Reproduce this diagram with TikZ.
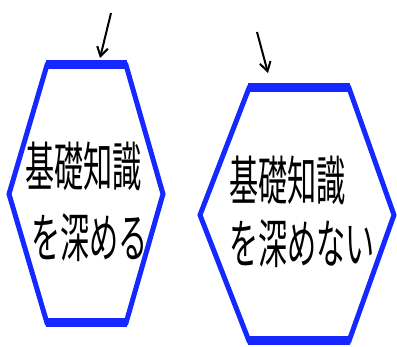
\documentclass[tikz,border=0pt]{standalone}
\usepackage{fontspec}
\usetikzlibrary{arrows.meta}
\newfontfamily\cjk{Noto Sans CJK JP}
\definecolor{hexblue}{RGB}{20,40,255}
\begin{document}
\begin{tikzpicture}[x=1pt,y=-1pt,
  hexside/.style={draw=hexblue,line width=5pt,line join=miter},
  hexcap/.style={draw=hexblue,line width=9pt,line cap=butt},
  lbl/.style={inner sep=0pt,anchor=west,font=\cjk\fontsize{53}{53}\selectfont,xscale=0.55},
  pointer/.style={draw=black,line width=2pt,-{Straight Barb[length=9pt,width=11pt]}}]
\useasboundingbox (0,0) rectangle (397,347);
% left hexagon
\coordinate (a1) at (47,65);
\coordinate (a2) at (126,65);
\coordinate (a3) at (163,194);
\coordinate (a4) at (126,323);
\coordinate (a5) at (47,323);
\coordinate (a6) at (9,194);
\draw[hexside] (a1) -- (a2) -- (a3) -- (a4) -- (a5) -- (a6) -- cycle;
\draw[hexcap] ([xshift=-1pt]a1) -- ([xshift=1pt]a2);
\draw[hexcap] ([xshift=-1pt]a5) -- ([xshift=1pt]a4);
% right hexagon
\coordinate (b1) at (249,88);
\coordinate (b2) at (349,88);
\coordinate (b3) at (394,215);
\coordinate (b4) at (349,341);
\coordinate (b5) at (249,341);
\coordinate (b6) at (200,215);
\draw[hexside] (b1) -- (b2) -- (b3) -- (b4) -- (b5) -- (b6) -- cycle;
\draw[hexcap] ([xshift=-1pt]b1) -- ([xshift=1pt]b2);
\draw[hexcap] ([xshift=-1pt]b5) -- ([xshift=1pt]b4);
% texts
\node[lbl] (l1) at (25,166) {基礎知識};
\node[lbl] (l2) at (31,238) {を深める};
\node[lbl] (r1) at (229,180) {基礎知識};
\node[lbl] (r2) at (229,244) {を深めない};
% pointers
\coordinate (pa) at (111,13);
\coordinate (pah) at (100,58);
\coordinate (pb) at (257,32);
\coordinate (pbh) at (268,73);
\draw[pointer] (pa) -- (pah);
\draw[pointer] (pb) -- (pbh);
\end{tikzpicture}
\end{document}
